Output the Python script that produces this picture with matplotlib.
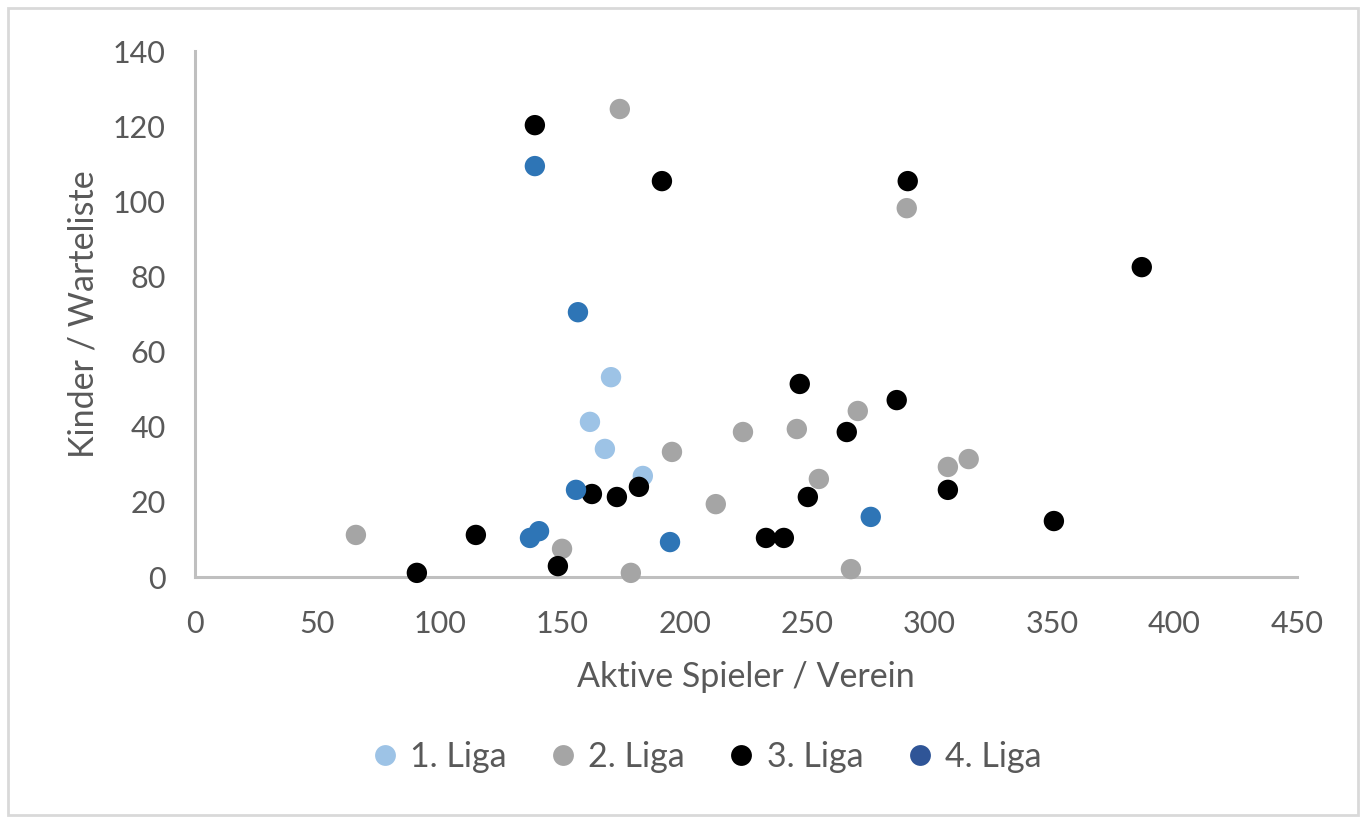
import matplotlib.pyplot as plt
from matplotlib.lines import Line2D
from matplotlib.patches import Rectangle

plt.rcParams['font.family'] = ['Lato', 'DejaVu Sans']

# data: (aktive Spieler, Kinder auf Warteliste)
liga1_x = [169.9, 161.3, 167.4, 182.9]
liga1_y = [53.2, 41.3, 34.1, 26.9]

liga2_x = [65.7, 173.5, 290.7, 149.9, 178.0, 194.8, 212.7, 223.8, 245.8, 254.8, 270.7, 267.9, 307.5, 316.0]
liga2_y = [11.2, 124.6, 98.2, 7.5, 1.1, 33.3, 19.4, 38.6, 39.4, 26.1, 44.2, 2.1, 29.3, 31.4]

liga3_x = [138.8, 190.7, 291.1, 386.7, 90.6, 114.7, 148.2, 162.1, 172.3, 181.3,
           247.0, 250.3, 233.2, 240.5, 266.2, 286.6, 307.5, 350.8]
liga3_y = [120.3, 105.4, 105.4, 82.5, 1.1, 11.2, 2.9, 22.1, 21.3, 24.0,
           51.4, 21.3, 10.4, 10.4, 38.6, 47.1, 23.2, 14.9]

liga4_x = [138.8, 156.4, 155.6, 136.8, 140.5, 194.0, 276.0]
liga4_y = [109.4, 70.5, 23.2, 10.4, 12.2, 9.3, 16.0]

labels = ['1. Liga', '2. Liga', '3. Liga', '4. Liga']
colors = ['#9DC3E6', '#A5A5A5', '#000000', '#2E75B6']
legend_colors = ['#9DC3E6', '#A5A5A5', '#000000', '#2F5597']

text_col = '#595959'
axis_col = '#BFBFBF'

fig = plt.figure(figsize=(13.65, 8.25), dpi=100)
ax = fig.add_axes([0.1429, 0.3006, 0.8071, 0.6374])

series = [(liga1_x, liga1_y), (liga2_x, liga2_y), (liga3_x, liga3_y), (liga4_x, liga4_y)]
for (xs, ys), c in zip(series, colors):
    ax.scatter(xs, ys, s=215, color=c, edgecolors='none', zorder=3, clip_on=False)

ax.set_xlim(0, 450)
ax.set_ylim(0, 140)
ax.set_xticks(range(0, 451, 50))
ax.set_yticks(range(0, 141, 20))
ax.tick_params(length=0, labelsize=22, labelcolor=text_col)
ax.tick_params(axis='y', pad=21)
ax.tick_params(axis='x', pad=24)

for side in ['top', 'right']:
    ax.spines[side].set_visible(False)
for side in ['left', 'bottom']:
    ax.spines[side].set_color(axis_col)
    ax.spines[side].set_linewidth(2.2)

ax.set_xlabel('Aktive Spieler / Verein', fontsize=24.5, color=text_col, labelpad=16)
ax.set_ylabel('Kinder / Warteliste', fontsize=24.5, color=text_col, labelpad=10)

handles = [Line2D([], [], marker='o', linestyle='', markersize=15,
                  markerfacecolor=c, markeredgecolor='none') for c in legend_colors]
fig.legend(handles, labels, loc='center', bbox_to_anchor=(0.515, 0.083), ncol=4,
           frameon=False, fontsize=24.5, labelcolor=text_col, handletextpad=0.15,
           columnspacing=1.05, handlelength=1.2)

# light outer frame like the exported chart area
fig.patches.append(Rectangle((0.006, 0.012), 0.989, 0.978, transform=fig.transFigure,
                             fill=False, edgecolor='#D9D9D9', linewidth=2))

fig.savefig('out.png', dpi=100)
